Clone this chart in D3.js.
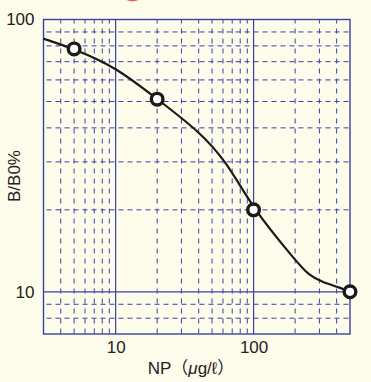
<!DOCTYPE html>
<meta charset="utf-8">
<script src="https://cdn.jsdelivr.net/npm/d3@7"></script>
<style>
  body { margin: 0; background: #fdfbea; }
  text { font-family: "Liberation Sans", Arial, sans-serif; fill: #222; }
</style>
<div id="main"></div>
<script>

var width = 371
var height = 382

// measured points (NP in ug/l, B/B0 in %)
var pointX = [5, 20, 100, 500]
var pointY = [78, 51, 20, 10]

// fitted curve
var curveX = [3, 5, 10, 20, 40, 64, 100, 200, 250, 320, 430, 500]
var curveY = [85, 78, 67, 51, 39, 30, 20, 13.1, 11.5, 10.8, 10.35, 10]

// grid and labels
var xMajor = [10, 100]
var yMajor = [10, 100]
var xMinor = [4, 5, 6, 7, 8, 9, 20, 30, 40, 50, 60, 70, 80, 90, 200, 300, 400]
var yMinor = [8, 9, 20, 30, 40, 50, 60, 70, 80, 90]

var margin = {left: 43.5, right: 21, top: 19.5, bottom: 48}

var x = d3.scaleLog().domain([3, 500]).range([margin.left, width - margin.right])
var y = d3.scaleLog().domain([7, 100]).range([height - margin.bottom, margin.top])

var svg = d3.select("#main")
  .append("svg")
    .attr("width", width)
    .attr("height", height)

svg.append("rect")
    .attr("width", width)
    .attr("height", height)
    .attr("fill", "#fdfbea")

// cut-off red mark at the top
svg.append("ellipse")
    .attr("cx", 132.5).attr("cy", -10)
    .attr("rx", 12).attr("ry", 11.5)
    .attr("fill", "#e2694f")

var gridColor = "#3a40a6"

var grid = svg.append("g")

grid.selectAll(".vminor")
  .data(xMinor)
  .enter()
  .append("line")
    .attr("x1", d => x(d)).attr("x2", d => x(d))
    .attr("y1", y.range()[1]).attr("y2", y.range()[0])
    .attr("stroke", gridColor)
    .attr("stroke-width", 1)
    .attr("stroke-dasharray", "5,5")
    .attr("stroke-dashoffset", 1)

grid.selectAll(".hminor")
  .data(yMinor)
  .enter()
  .append("line")
    .attr("x1", x.range()[0]).attr("x2", x.range()[1])
    .attr("y1", d => y(d)).attr("y2", d => y(d))
    .attr("stroke", gridColor)
    .attr("stroke-width", 1)
    .attr("stroke-dasharray", "5,4")
    .attr("stroke-dashoffset", -3)

grid.selectAll(".vmajor")
  .data(xMajor)
  .enter()
  .append("line")
    .attr("x1", d => x(d)).attr("x2", d => x(d))
    .attr("y1", y.range()[1]).attr("y2", y.range()[0])
    .attr("stroke", gridColor)
    .attr("stroke-width", 1.2)

grid.selectAll(".hmajor")
  .data(yMajor)
  .enter()
  .append("line")
    .attr("x1", x.range()[0]).attr("x2", x.range()[1])
    .attr("y1", d => y(d)).attr("y2", d => y(d))
    .attr("stroke", gridColor)
    .attr("stroke-width", 1.2)

svg.append("rect")
    .attr("x", x.range()[0])
    .attr("y", y.range()[1])
    .attr("width", x.range()[1] - x.range()[0])
    .attr("height", y.range()[0] - y.range()[1])
    .attr("fill", "none")
    .attr("stroke", gridColor)
    .attr("stroke-width", 1.4)

// axes: labels only
var xAxis = svg.append("g")
    .attr("transform", "translate(0," + y.range()[0] + ")")
    .call(d3.axisBottom(x).tickValues(xMajor).tickSize(0).tickPadding(7).tickFormat(d3.format("d")))
xAxis.select(".domain").remove()
xAxis.selectAll("text").style("font-size", "17px").attr("dy", "0.71em").attr("fill", "#222")

var yAxis = svg.append("g")
    .attr("transform", "translate(" + x.range()[0] + ",0)")
    .call(d3.axisLeft(y).tickValues(yMajor).tickSize(0).tickPadding(9).tickFormat(d3.format("d")))
yAxis.select(".domain").remove()
yAxis.selectAll("text").style("font-size", "17px").attr("fill", "#222")

svg.append("text")
    .attr("x", 191)
    .attr("y", 374)
    .attr("text-anchor", "middle")
    .style("font-size", "17px")
    .html("NP<tspan font-family='Noto Sans CJK JP'>（</tspan><tspan font-style='italic'>μ</tspan>g/ℓ<tspan font-family='Noto Sans CJK JP'>）</tspan>")

svg.append("text")
    .attr("transform", "translate(20,176) rotate(-90)")
    .attr("text-anchor", "middle")
    .style("font-size", "17px")
    .text("B/B0%")

// curve
var curveData = curveX.map((d, i) => [d, curveY[i]])
var line = d3.line()
    .x(d => x(d[0]))
    .y(d => y(d[1]))
    .curve(d3.curveBasis)

svg.append("path")
    .datum(curveData)
    .attr("d", line)
    .attr("fill", "none")
    .attr("stroke", "#1c1a18")
    .attr("stroke-width", 2.2)

svg.selectAll(".pt")
  .data(pointX)
  .enter()
  .append("circle")
    .attr("cx", d => x(d))
    .attr("cy", (d, i) => y(pointY[i]))
    .attr("r", 5.8)
    .attr("fill", "#fff")
    .attr("stroke", "#1c1a18")
    .attr("stroke-width", 3.4)

</script>
